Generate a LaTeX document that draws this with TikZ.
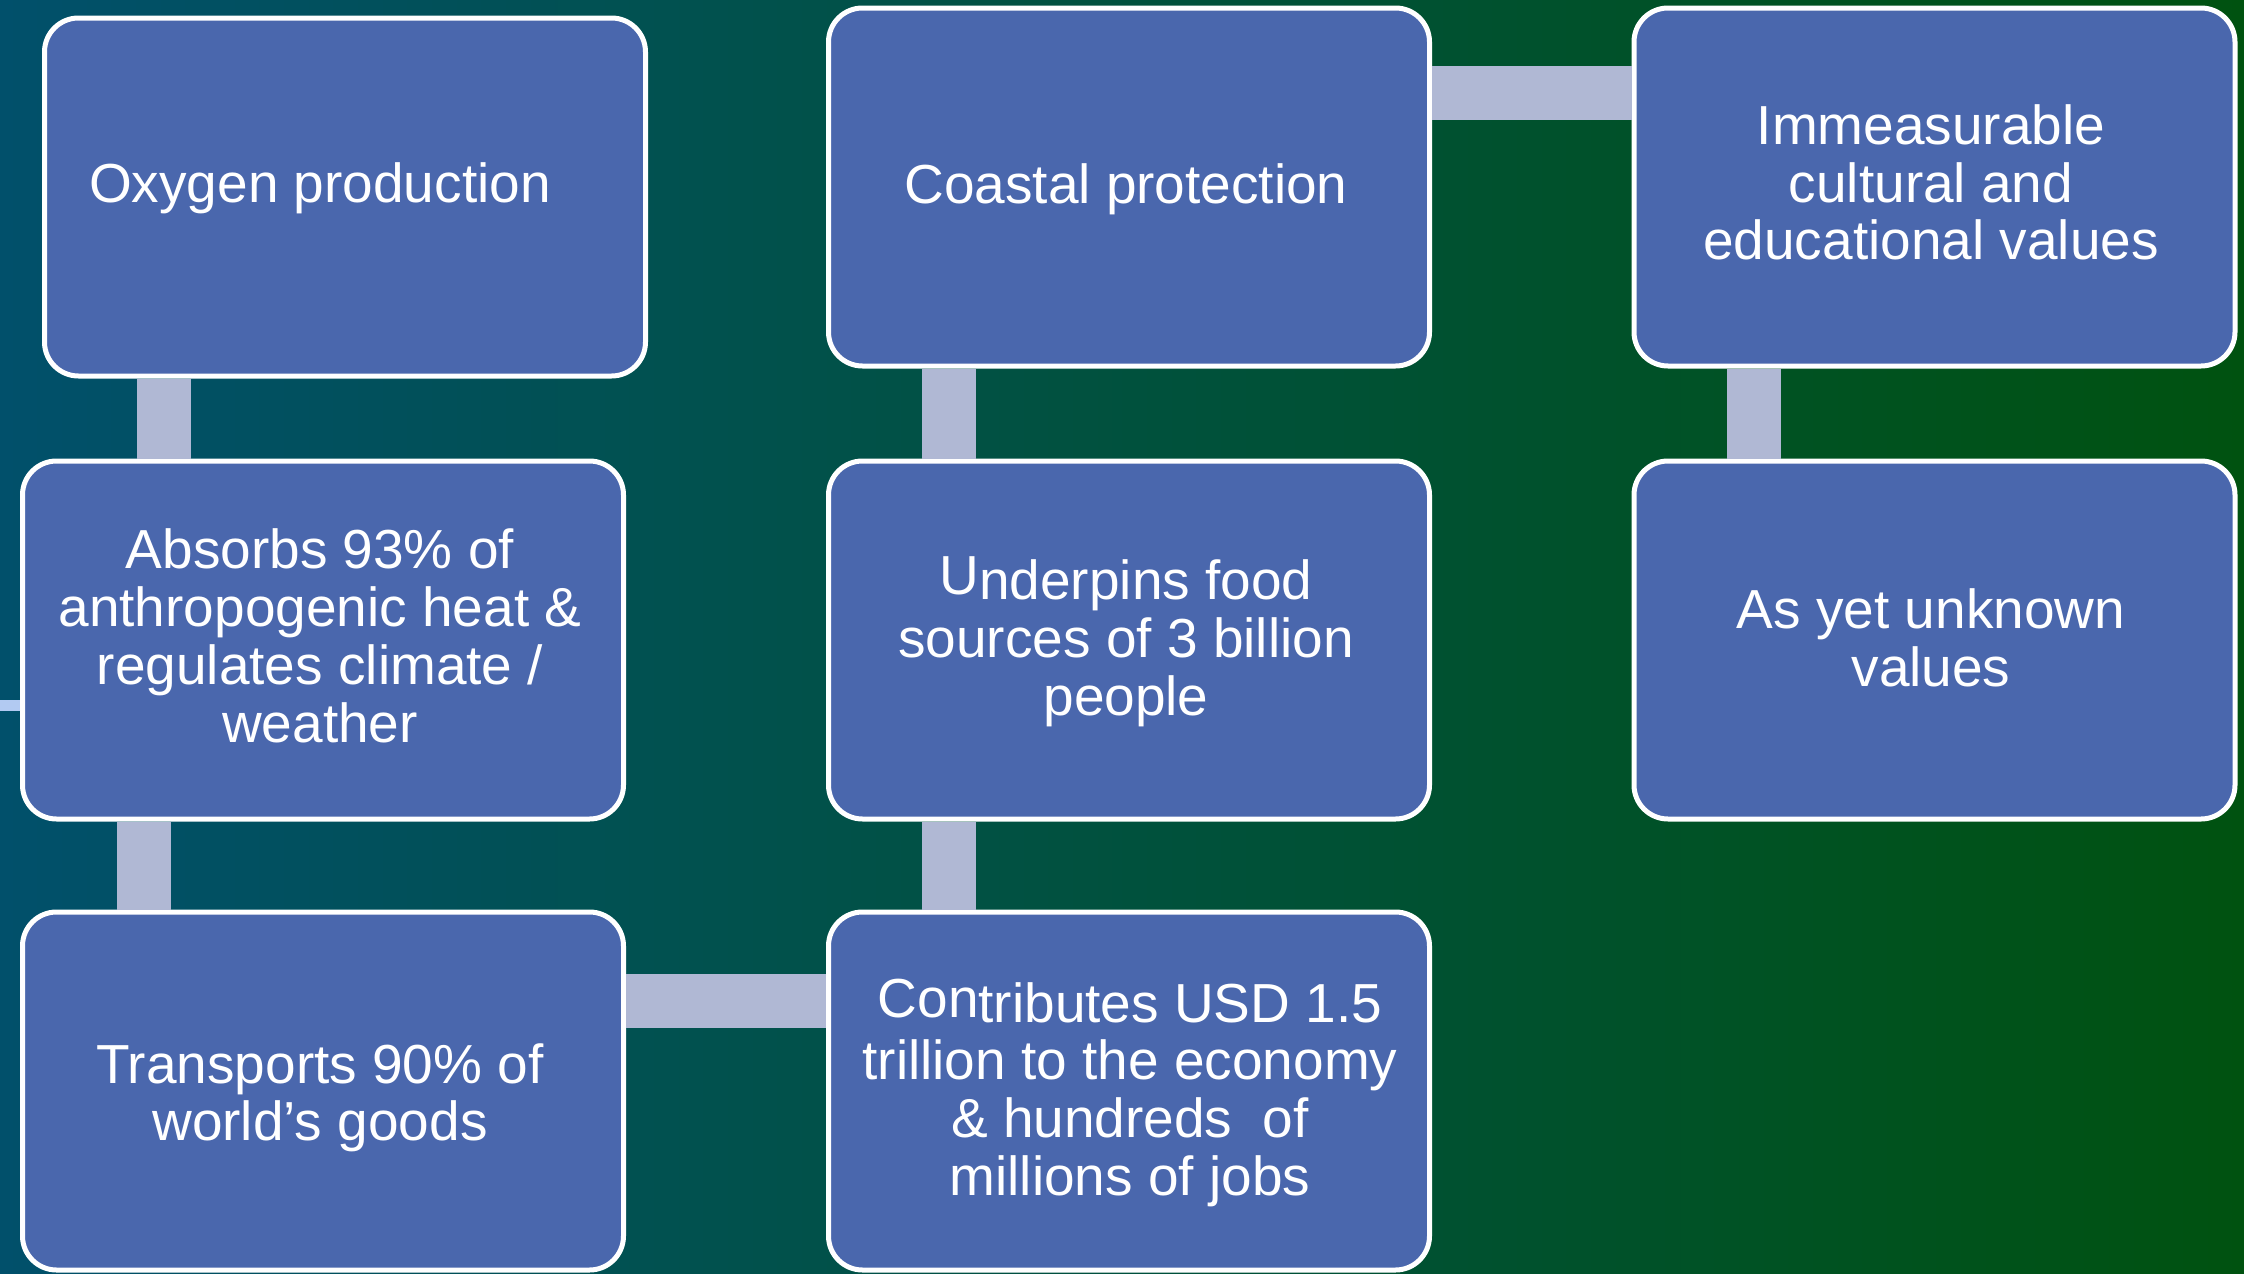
\documentclass[tikz,border=0pt]{standalone}
\usepackage{fontspec}
\setmainfont{Liberation Sans}
\definecolor{bgL}{RGB}{1,80,107}
\definecolor{bgR}{RGB}{0,82,16}
\definecolor{boxfill}{RGB}{74,103,173}
\definecolor{linkc}{RGB}{176,184,212}
\definecolor{stubc}{RGB}{178,202,242}
\tikzset{
  box/.style={draw=white, line width=2.5pt, fill=boxfill, rounded corners=17pt,
    minimum width=300.5pt, minimum height=179pt, inner sep=0pt},
  link/.style={draw=linkc, line width=27pt},
  stubline/.style={draw=stubc, line width=5.5pt},
  txt/.style={text=white, align=center, inner sep=0pt,
    font=\fontsize{27.5}{28.85}\selectfont}
}
\begin{document}
\begin{tikzpicture}[x=0.5pt,y=-0.5pt]
\useasboundingbox (0,0) rectangle (2244,1274);
\shade[left color=bgL, right color=bgR] (0,0) rectangle (2244,1274);

% boxes
\node[box] (A) at (345,197) {};
\node[box] (B) at (323,640) {};
\node[box] (C) at (323,1091) {};
\node[box] (D) at (1129,187) {};
\node[box] (E) at (1129,640) {};
\node[box] (F) at (1129,1091) {};
\node[box] (G) at (1934.5,187) {};
\node[box] (H) at (1934.5,640) {};

% connector guide coordinates
\coordinate (ab) at (164,0);
\coordinate (bc) at (143.5,0);
\coordinate (def) at (948.5,0);
\coordinate (gh) at (1753.5,0);
\coordinate (cf) at (0,1001);
\coordinate (dg) at (0,93);
\coordinate (stub) at (0,705.5);

% connectors
\draw[link] (A.south -| ab) -- (B.north -| ab);
\draw[link] (B.south -| bc) -- (C.north -| bc);
\draw[link] (D.south -| def) -- (E.north -| def);
\draw[link] (E.south -| def) -- (F.north -| def);
\draw[link] (G.south -| gh) -- (H.north -| gh);
\draw[link] (C.east |- cf) -- (F.west |- cf);
\draw[link] (D.east |- dg) -- (G.west |- dg);
\draw[stubline] (B.west |- stub) -- (stub);

% texts
\node[txt] (tA) at (320,190.5) {\strut Oxygen production};
\node[txt] (tB) at (320,644) {\strut Absorbs 93\% of\\ \strut anthropogenic heat \&\\ \strut regulates climate /\\ \strut weather};
\node[txt] (tC) at (320,1100.5) {\strut Transports 90\% of\\ \strut world’s goods};
\node[txt] (tD) at (1126,191.5) {\strut Coastal protection};
\node[txt] (tE) at (1126,646) {\strut \raisebox{2.5pt}[0pt][0pt]{U}nderpins food\\ \strut sources of 3 billion\\ \strut people};
\node[txt] (tF) at (1130,1097) {\strut \raisebox{2.5pt}[0pt][0pt]{Con}tributes USD 1.5\\ \strut trillion to the economy\\ \strut \& hundreds~~of\\ \strut millions of jobs};
\node[txt] (tG) at (1931,190.5) {\strut Immeasurable\\ \strut cultural and\\ \strut educational values};
\node[txt] (tH) at (1931,646) {\strut As yet unknown\\ \strut values};
\end{tikzpicture}
\end{document}
